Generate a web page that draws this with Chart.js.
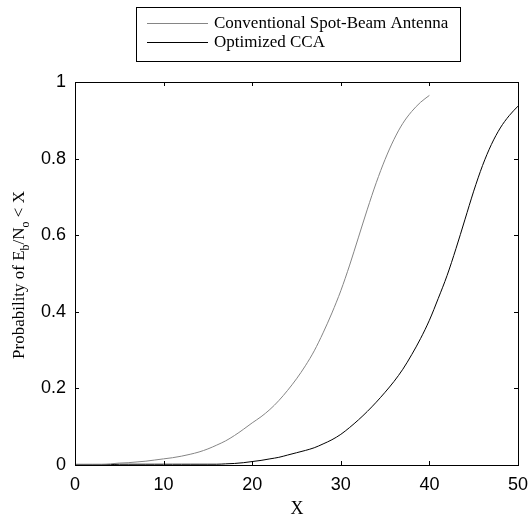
<!DOCTYPE html>
<html>
<head>
<meta charset="utf-8">
<script src="https://cdn.jsdelivr.net/npm/chart.js@4/dist/chart.umd.min.js"></script>
<style>
html,body{margin:0;padding:0;background:#fff;}
#c{display:block;}
</style>
</head>
<body>
<canvas id="c" width="529" height="519"></canvas>
<script>
// ---- data ----
const seriesNames = ["Conventional Spot-Beam Antenna", "Optimized CCA"];
const convX = [0,1,2,3,4,5,6,7,8,9,10,11,12,13,14,15,16,17,18,19,20,21,22,23,24,25,26,27,28,29,30,31,32,33,34,35,36,37,38,39,40];
const convY = [0.002,0.002,0.002,0.002,0.003,0.005,0.006,0.008,0.010,0.013,0.016,0.019,0.023,0.028,0.034,0.042,0.052,0.063,0.077,0.093,0.110,0.126,0.145,0.168,0.195,0.225,0.259,0.298,0.345,0.397,0.455,0.522,0.595,0.668,0.737,0.798,0.850,0.892,0.923,0.947,0.965];
const optX = [0,1,2,3,4,5,6,7,8,9,10,11,12,13,14,15,16,17,18,19,20,21,22,23,24,25,26,27,28,29,30,31,32,33,34,35,36,37,38,39,40,41,42,43,44,45,46,47,48,49,50];
const optY = [0.001,0.001,0.001,0.001,0.001,0.002,0.002,0.002,0.002,0.002,0.002,0.002,0.002,0.002,0.002,0.002,0.002,0.003,0.004,0.006,0.009,0.012,0.016,0.020,0.026,0.032,0.038,0.045,0.055,0.066,0.080,0.098,0.118,0.140,0.164,0.190,0.218,0.250,0.288,0.330,0.378,0.435,0.495,0.565,0.640,0.715,0.782,0.837,0.880,0.912,0.937];
const xTicks = [0,10,20,30,40,50];
const yTicks = [0,0.2,0.4,0.6,0.8,1];
const yTickLabels = ["0","0.2","0.4","0.6","0.8","1"];
const xTitle = "X";

const toPts = (xs, ys) => xs.map((x, i) => ({x: x, y: ys[i]}));
const serif = '"Liberation Serif", "Times New Roman", serif';

const framePlugin = {
  id: 'frame',
  afterDatasetsDraw(chart) {
    const ctx = chart.ctx;
    const a = chart.chartArea;
    const xs = chart.scales.x, ys = chart.scales.y;
    ctx.save();
    ctx.strokeStyle = '#000';
    ctx.lineWidth = 1;
    // box
    ctx.strokeRect(Math.round(a.left) + 0.5, Math.round(a.top) + 0.5, Math.round(a.right - a.left), Math.round(a.bottom - a.top));
    // inward ticks
    const tl = 4;
    ctx.beginPath();
    xTicks.forEach(v => {
      const px = Math.round(xs.getPixelForValue(v)) + 0.5;
      ctx.moveTo(px, a.bottom); ctx.lineTo(px, a.bottom - tl);
      ctx.moveTo(px, a.top); ctx.lineTo(px, a.top + tl);
    });
    yTicks.forEach(v => {
      const py = Math.round(ys.getPixelForValue(v)) + 0.5;
      ctx.moveTo(a.left, py); ctx.lineTo(a.left + tl, py);
      ctx.moveTo(a.right, py); ctx.lineTo(a.right - tl, py);
    });
    ctx.stroke();

    // legend box
    ctx.fillStyle = '#fff';
    ctx.fillRect(136.5, 7.5, 324, 54);
    ctx.strokeRect(136.5, 7.5, 324, 54);
    const colors = [chart.data.datasets[0].borderColor, chart.data.datasets[1].borderColor];
    const rowsY = [23.5, 42.5];
    ctx.font = '17px ' + serif;
    ctx.textBaseline = 'middle';
    ctx.textAlign = 'left';
    seriesNames.forEach((n, i) => {
      ctx.strokeStyle = colors[i];
      ctx.beginPath();
      ctx.moveTo(147, rowsY[i]); ctx.lineTo(208, rowsY[i]);
      ctx.stroke();
      ctx.fillStyle = '#000';
      ctx.fillText(n, 214, rowsY[i]);
    });

    // x title
    ctx.fillStyle = '#000';
    ctx.textAlign = 'center';
    ctx.textBaseline = 'middle';
    ctx.font = '18px ' + serif;
    ctx.fillText(xTitle, 297, 509);

    // y title with subscripts
    const parts = [
      {t: 'Probability of E', sub: false},
      {t: 'b', sub: true},
      {t: '/N', sub: false},
      {t: 'o', sub: true},
      {t: ' < X', sub: false}
    ];
    const mainFont = '17px ' + serif;
    const subFont = '12px ' + serif;
    let total = 0;
    parts.forEach(p => { ctx.font = p.sub ? subFont : mainFont; p.w = ctx.measureText(p.t).width; total += p.w; });
    ctx.translate(20, 275);
    ctx.rotate(-Math.PI / 2);
    ctx.textAlign = 'left';
    ctx.textBaseline = 'middle';
    let cx = -total / 2;
    parts.forEach(p => {
      ctx.font = p.sub ? subFont : mainFont;
      ctx.fillText(p.t, cx, p.sub ? 6 : 0);
      cx += p.w;
    });
    ctx.restore();
  }
};

new Chart(document.getElementById('c'), {
  type: 'line',
  data: {
    datasets: [
      {label: seriesNames[0], data: toPts(convX, convY), borderColor: '#858585', borderWidth: 1, pointRadius: 0, fill: false, cubicInterpolationMode: 'monotone'},
      {label: seriesNames[1], data: toPts(optX, optY), borderColor: '#000000', borderWidth: 1, pointRadius: 0, fill: false, cubicInterpolationMode: 'monotone'}
    ]
  },
  options: {
    responsive: false,
    animation: false,
    devicePixelRatio: 1,
    layout: {padding: {top: 82, right: 11, left: 0, bottom: 0}},
    plugins: {legend: {display: false}, tooltip: {enabled: false}},
    scales: {
      x: {
        type: 'linear', min: 0, max: 50,
        afterFit: s => { s.height = 54; s.paddingLeft = 0; s.paddingRight = 0; },
        afterBuildTicks: s => { s.ticks = xTicks.map(v => ({value: v})); },
        grid: {display: false, drawTicks: false},
        border: {display: false},
        ticks: {padding: 9, color: '#000', maxRotation: 0, font: {family: '"Liberation Sans", Arial, sans-serif', size: 18}}
      },
      y: {
        type: 'linear', min: 0, max: 1,
        afterFit: s => { s.width = 75; s.paddingTop = 0; s.paddingBottom = 0; },
        afterBuildTicks: s => { s.ticks = yTicks.map(v => ({value: v})); },
        grid: {display: false, drawTicks: false},
        border: {display: false},
        ticks: {padding: 9, color: '#000', callback: (v) => { const i = yTicks.indexOf(v); return i >= 0 ? yTickLabels[i] : ''; }, font: {family: '"Liberation Sans", Arial, sans-serif', size: 18}}
      }
    }
  },
  plugins: [framePlugin]
});
</script>
</body>
</html>
